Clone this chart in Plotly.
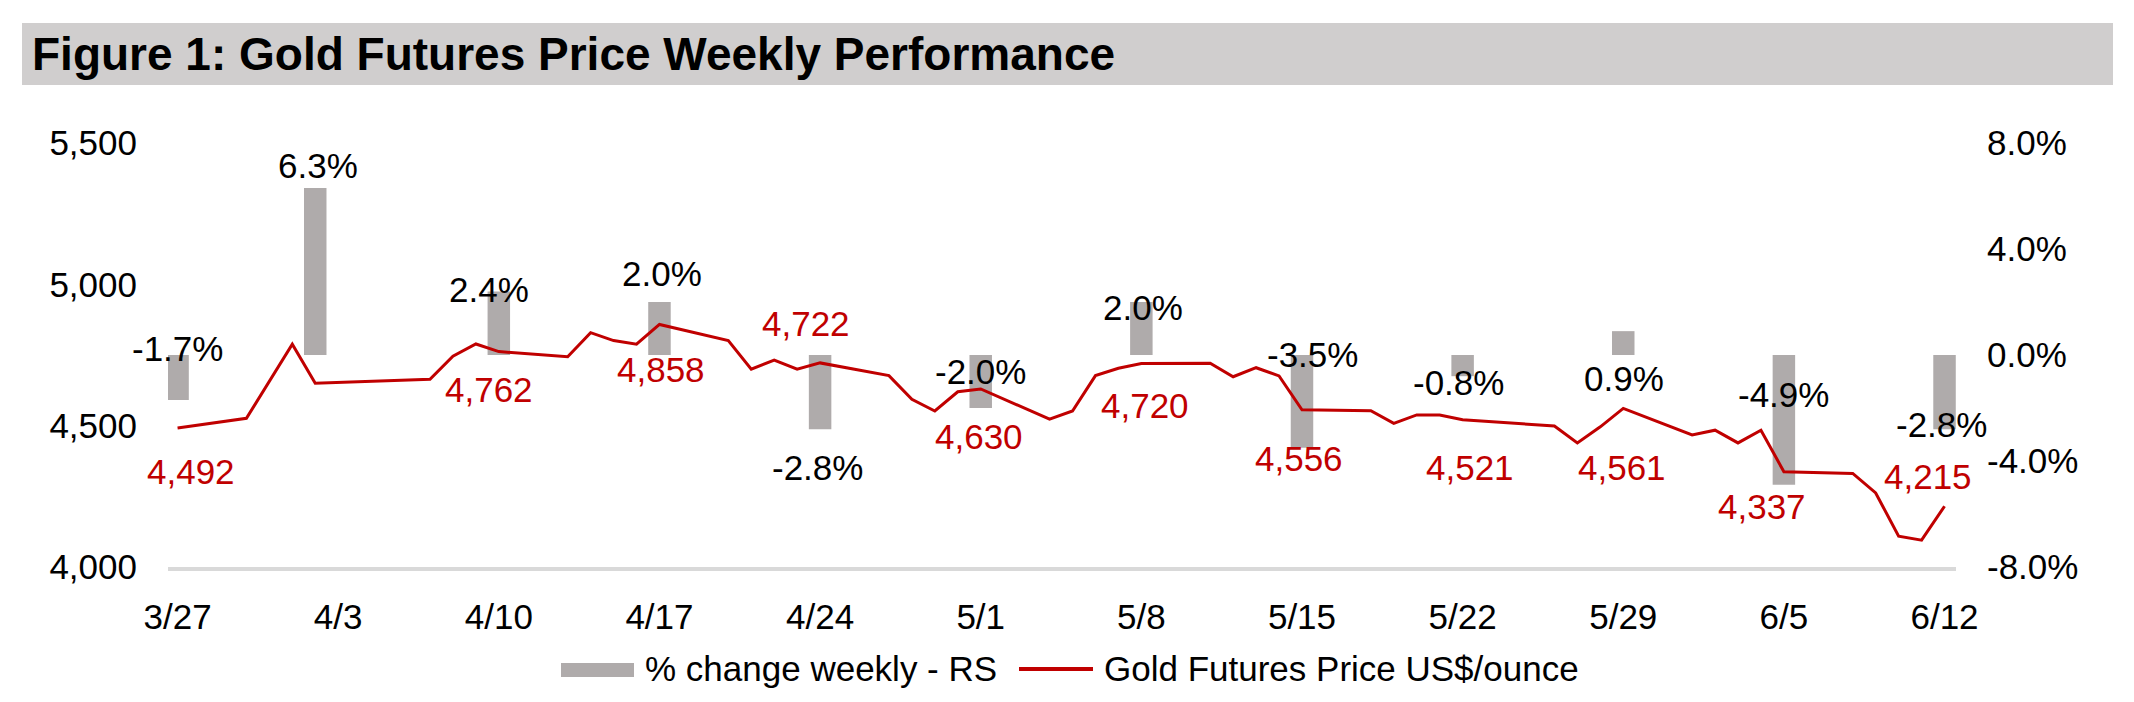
import plotly.graph_objects as go

# ---------------- data ----------------
dates = ["2026-03-27", "2026-03-30", "2026-04-01", "2026-04-02", "2026-04-07", "2026-04-08",
         "2026-04-09", "2026-04-10", "2026-04-13", "2026-04-14", "2026-04-15", "2026-04-16",
         "2026-04-17", "2026-04-20", "2026-04-21", "2026-04-22", "2026-04-23", "2026-04-24",
         "2026-04-27", "2026-04-28", "2026-04-29", "2026-04-30", "2026-05-01", "2026-05-04",
         "2026-05-05", "2026-05-06", "2026-05-07", "2026-05-08", "2026-05-11", "2026-05-12",
         "2026-05-13", "2026-05-14", "2026-05-15", "2026-05-18", "2026-05-19", "2026-05-20",
         "2026-05-21", "2026-05-22", "2026-05-26", "2026-05-27", "2026-05-28", "2026-05-29",
         "2026-06-01", "2026-06-02", "2026-06-03", "2026-06-04", "2026-06-05", "2026-06-08",
         "2026-06-09", "2026-06-10", "2026-06-11", "2026-06-12"]
prices = [4492, 4526, 4788, 4650, 4664, 4746,
          4789, 4762, 4744, 4829, 4801, 4788,
          4858, 4801, 4700, 4732, 4700, 4722,
          4677, 4593, 4552, 4620, 4630, 4523,
          4552, 4677, 4703, 4720, 4721, 4673,
          4705, 4676, 4556, 4553, 4508, 4538,
          4538, 4521, 4499, 4439, 4496, 4561,
          4467, 4484, 4439, 4484, 4337, 4331,
          4262, 4109, 4095, 4215]

week_dates = ["2026-03-27", "2026-04-02", "2026-04-10", "2026-04-17", "2026-04-24", "2026-05-01",
              "2026-05-08", "2026-05-15", "2026-05-22", "2026-05-29", "2026-06-05", "2026-06-12"]
pct_change = [-1.7, 6.3, 2.4, 2.0, -2.8, -2.0, 2.0, -3.5, -0.8, 0.9, -4.9, -2.8]

label_dates = ["2026-03-27", "2026-04-10", "2026-04-17", "2026-04-24", "2026-05-01", "2026-05-08",
               "2026-05-15", "2026-05-22", "2026-05-29", "2026-06-05", "2026-06-12"]

tick_dates = ["2026-03-27", "2026-04-03", "2026-04-10", "2026-04-17", "2026-04-24", "2026-05-01",
              "2026-05-08", "2026-05-15", "2026-05-22", "2026-05-29", "2026-06-05", "2026-06-12"]
tick_text = ["3/27", "4/3", "4/10", "4/17", "4/24", "5/1", "5/8", "5/15", "5/22", "5/29", "6/5", "6/12"]

pct_tick_vals = [-8, -4, 0, 4, 8]
pct_tick_text = ["-8.0%", "-4.0%", "0.0%", "4.0%", "8.0%"]
price_tick_vals = [4000, 4500, 5000, 5500]
price_tick_text = ["4,000", "4,500", "5,000", "5,500"]

# ---------------- label offsets (pixels) ----------------
pct_offsets = [(0, 52), (3, 23), (-10, 2), (3, 29), (-3, -38), (0, 37),
               (2, -5), (11, 93), (-4, -6), (1, -47), (0, 90), (-3, 5)]
price_offsets = [(13, -44), (-10, -38), (2, -45), (-14, 39), (-2, -48), (4, -42),
                 (-3, -49), (7, -48), (-1, -59), (-22, -35), (-17, 30)]

# ---------------- styling ----------------
W, H = 2134, 702
L, R, T, B = 168, 178, 143, 135
FONT = "Liberation Sans, Arial, Helvetica, sans-serif"
RED = "#C00000"
GREY = "#AFABAB"
FS = 35


def px_x(px):
    return (px - L) / (W - L - R)


def px_y(py):
    return (H - B - py) / (H - T - B)


fig = go.Figure()

fig.add_trace(go.Bar(
    x=week_dates, y=pct_change, yaxis="y",
    width=86400000 * 0.98, marker=dict(color=GREY, line=dict(width=0)),
    name="% change weekly - RS", showlegend=False,
))

fig.add_trace(go.Scatter(
    x=dates, y=prices, yaxis="y2", mode="lines",
    line=dict(color=RED, width=3),
    name="Gold Futures Price US$/ounce", showlegend=False,
))

annotations = []
for d, v, (dx, dy) in zip(week_dates, pct_change, pct_offsets):
    annotations.append(dict(
        x=d, y=v, xref="x", yref="y", text=f"{v:.1f}%", showarrow=False,
        xshift=dx, yshift=dy, xanchor="center", yanchor="middle",
        font=dict(family=FONT, size=FS, color="#000000"),
    ))

price_lookup = dict(zip(dates, prices))
for d, (dx, dy) in zip(label_dates, price_offsets):
    p = price_lookup[d]
    annotations.append(dict(
        x=d, y=p, xref="x", yref="y2", text=f"{p:,}", showarrow=False,
        xshift=dx, yshift=dy, xanchor="center", yanchor="middle",
        font=dict(family=FONT, size=FS, color=RED),
    ))

# title
annotations.append(dict(
    x=px_x(30), y=px_y(54), xref="paper", yref="paper",
    text="<b>Figure 1: Gold Futures Price Weekly Performance</b>", showarrow=False,
    xanchor="left", yanchor="middle",
    font=dict(family=FONT, size=46, color="#000000"),
))

# legend texts
annotations.append(dict(
    x=px_x(643), y=px_y(668), xref="paper", yref="paper",
    text="% change weekly - RS", showarrow=False, xanchor="left", yanchor="middle",
    font=dict(family=FONT, size=FS, color="#000000"),
))
annotations.append(dict(
    x=px_x(1102), y=px_y(668), xref="paper", yref="paper",
    text="Gold Futures Price US$/ounce", showarrow=False, xanchor="left", yanchor="middle",
    font=dict(family=FONT, size=FS, color="#000000"),
))

shapes = [
    dict(type="rect", xref="paper", yref="paper", layer="below",
         x0=px_x(22), x1=px_x(2113), y0=px_y(85), y1=px_y(23),
         fillcolor="#D0CECE", line=dict(width=0)),
    dict(type="rect", xref="paper", yref="paper",
         x0=px_x(561), x1=px_x(634), y0=px_y(677), y1=px_y(663),
         fillcolor=GREY, line=dict(width=0)),
    dict(type="line", xref="paper", yref="paper",
         x0=px_x(1019), x1=px_x(1093), y0=px_y(669), y1=px_y(669),
         line=dict(color=RED, width=4)),
]

fig.update_layout(
    width=W, height=H,
    margin=dict(l=L, r=R, t=T, b=B, pad=0),
    paper_bgcolor="white", plot_bgcolor="white",
    showlegend=False,
    font=dict(family=FONT, size=FS, color="#000000"),
    xaxis=dict(
        type="date", range=["2026-03-26 14:00", "2026-06-12 12:00"],
        tickmode="array", tickvals=tick_dates, ticktext=tick_text,
        showgrid=False, zeroline=False,
        showline=True, linecolor="#D9D9D9", linewidth=4,
        ticks="", ticklabelstandoff=16,
        tickfont=dict(family=FONT, size=FS, color="#000000"),
    ),
    yaxis=dict(
        side="right", range=[-8, 8],
        tickmode="array", tickvals=pct_tick_vals, ticktext=pct_tick_text,
        showgrid=False, zeroline=False, showline=False,
        ticks="", ticklabelstandoff=30,
        tickfont=dict(family=FONT, size=FS, color="#000000"),
    ),
    yaxis2=dict(
        side="left", overlaying="y", range=[4000, 5500],
        tickmode="array", tickvals=price_tick_vals, ticktext=price_tick_text,
        showgrid=False, zeroline=False, showline=False,
        ticks="", ticklabelstandoff=30,
        tickfont=dict(family=FONT, size=FS, color="#000000"),
    ),
    annotations=annotations,
    shapes=shapes,
)

fig.write_html("out.html")
